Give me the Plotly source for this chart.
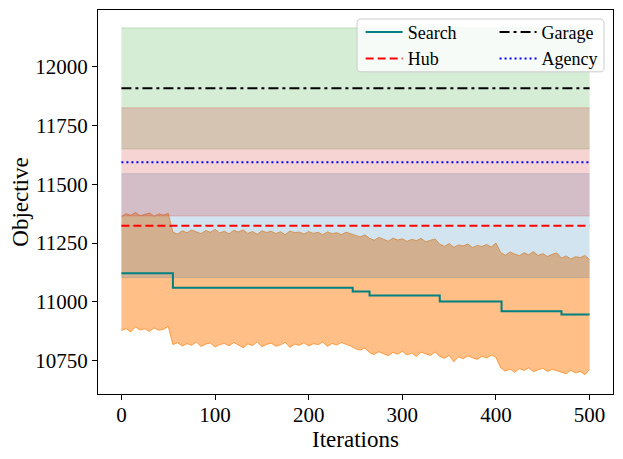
import plotly.graph_objects as go

# iterations sampled every 5 steps
iters = list(range(0, 501, 5))

# upper / lower envelope of the Search runs
search_hi = [11362, 11375, 11368, 11380, 11366, 11372, 11378, 11364, 11374, 11369, 11376,
             11296, 11288, 11302, 11294, 11305, 11297, 11290, 11303, 11296, 11308,
             11293, 11300, 11289, 11304, 11297, 11306, 11291, 11299, 11287, 11302,
             11295, 11300, 11290, 11298, 11286, 11301, 11294, 11297, 11288, 11299,
             11291, 11296, 11285, 11298, 11290, 11294, 11286, 11296, 11289,
             11282, 11276, 11285,
             11270, 11262, 11274, 11266, 11258, 11271, 11263, 11268, 11257, 11266,
             11260, 11270, 11255, 11262, 11267,
             11245, 11236, 11248, 11232, 11242, 11238, 11246, 11231, 11240, 11235,
             11244, 11233, 11250,
             11210, 11198, 11212, 11203, 11196, 11209, 11200, 11214, 11197, 11205,
             11193, 11202, 11208,
             11186, 11195, 11182, 11192, 11188, 11197, 11180]
search_lo = [10878, 10886, 10872, 10893, 10880, 10885, 10874, 10889, 10879, 10883, 10895,
             10818, 10826, 10812, 10822, 10815, 10829, 10810, 10820, 10825, 10808,
             10818, 10823, 10813, 10827, 10816, 10805, 10821, 10814, 10830, 10809,
             10819, 10824, 10811, 10817, 10828, 10806, 10820, 10815, 10826, 10812,
             10822, 10818, 10829, 10810, 10823, 10816, 10827, 10819, 10812,
             10800, 10795, 10803,
             10784, 10776, 10788, 10779, 10771, 10785, 10777, 10790, 10774, 10782,
             10768, 10786, 10778, 10772, 10787,
             10768, 10760, 10772, 10745, 10766, 10758, 10770, 10762, 10755, 10769,
             10761, 10773, 10764,
             10720, 10705, 10714, 10700, 10716, 10708, 10719, 10703, 10711, 10717,
             10704, 10713, 10707,
             10702, 10694, 10709, 10697, 10704, 10690, 10712]

# best-so-far Search objective (step changes)
search_x = [0, 55, 247, 265, 340, 406, 470, 500]
search_y = [11122, 11060, 11044, 11027, 11001, 10960, 10946, 10946]

# baselines: mean and band
base_names = ["Hub", "Garage", "Agency"]
base_mean = [11323, 11908, 11594]
base_lo = [11103, 11650, 11365]
base_hi = [11545, 12165, 11825]
base_fill = ["rgba(31,119,180,0.2)", "rgba(44,160,44,0.2)", "rgba(214,39,40,0.2)"]
base_line = [dict(color="red", width=2, dash="8px,4px"),
             dict(color="black", width=2, dash="10px,4px,3px,4px"),
             dict(color="blue", width=2, dash="2px,3px")]
base_legend = ["legend", "legend2", "legend2"]

x_span = [0, 500]

fig = go.Figure()

# search envelope
fig.add_trace(go.Scatter(x=iters, y=search_lo, mode="lines",
                         line=dict(color="rgba(255,127,14,0.7)", width=1),
                         showlegend=False, hoverinfo="skip"))
fig.add_trace(go.Scatter(x=iters, y=search_hi, mode="lines", fill="tonexty",
                         fillcolor="rgba(255,127,14,0.5)",
                         line=dict(color="rgba(255,127,14,0.7)", width=1),
                         showlegend=False, hoverinfo="skip"))

# baseline bands
for i in range(len(base_names)):
    fig.add_trace(go.Scatter(x=x_span, y=[base_lo[i], base_lo[i]], mode="lines",
                             line=dict(color=base_fill[i], width=1),
                             showlegend=False, hoverinfo="skip"))
    fig.add_trace(go.Scatter(x=x_span, y=[base_hi[i], base_hi[i]], mode="lines",
                             fill="tonexty", fillcolor=base_fill[i],
                             line=dict(color=base_fill[i], width=1),
                             showlegend=False, hoverinfo="skip"))

# lines
fig.add_trace(go.Scatter(x=search_x, y=search_y, mode="lines", name="Search",
                         line=dict(color="teal", width=2, shape="hv"),
                         legend="legend"))
for i in range(len(base_names)):
    fig.add_trace(go.Scatter(x=x_span, y=[base_mean[i], base_mean[i]], mode="lines",
                             name=base_names[i], line=base_line[i],
                             legend=base_legend[i]))

font = "Liberation Serif"

# legend frame (matplotlib style)
x0, x1, y0, y1 = 0.503, 0.9825, 0.839, 0.9766
rx, ry = 0.008, 0.011
frame = (f"M {x0+rx},{y0} L {x1-rx},{y0} Q {x1},{y0} {x1},{y0+ry} "
         f"L {x1},{y1-ry} Q {x1},{y1} {x1-rx},{y1} L {x0+rx},{y1} "
         f"Q {x0},{y1} {x0},{y1-ry} L {x0},{y0+ry} Q {x0},{y0} {x0+rx},{y0} Z")
fig.add_shape(type="path", path=frame, xref="paper", yref="paper",
              fillcolor="rgba(255,255,255,0.8)", line=dict(color="#cccccc", width=1),
              layer="above")

leg_common = dict(font=dict(family=font, size=18, color="black"),
                  bgcolor="rgba(0,0,0,0)", borderwidth=0, itemwidth=37,
                  yanchor="top", xanchor="left", tracegroupgap=0,
                  traceorder="normal")

# page body adds an 8px margin, so the figure is 8px smaller than the window
fig.update_layout(
    width=615, height=451,
    margin=dict(l=90, r=10, t=2, b=65),
    paper_bgcolor="white", plot_bgcolor="white",
    font=dict(family=font, size=21, color="black"),
    legend=dict(x=0.51, y=0.99, **leg_common),
    legend2=dict(x=0.77, y=0.99, **leg_common),
    xaxis=dict(range=[-25, 525], tickvals=[0, 100, 200, 300, 400, 500],
               tickformat="d",
               showgrid=False, zeroline=False, showline=True, mirror=True,
               linecolor="black", linewidth=1, ticks="outside", ticklen=5,
               tickcolor="black", automargin=False, ticklabelstandoff=-3,
               title=dict(text="Iterations", font=dict(size=23), standoff=0)),
    yaxis=dict(range=[10608, 12241],
               tickvals=[10750, 11000, 11250, 11500, 11750, 12000],
               tickformat="d",
               showgrid=False, zeroline=False, showline=True, mirror=True,
               linecolor="black", linewidth=1, ticks="outside", ticklen=5,
               tickcolor="black", automargin=False,
               title=dict(text="Objective", font=dict(size=23), standoff=10)),
)

fig.write_html("out.html")
